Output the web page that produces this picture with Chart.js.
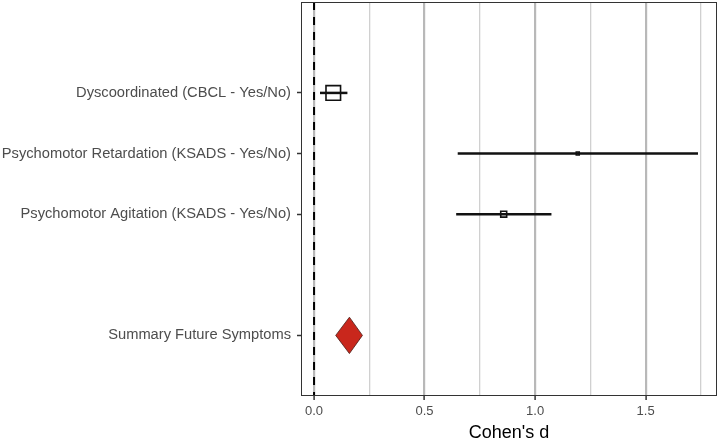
<!DOCTYPE html>
<html>
<head>
<meta charset="utf-8">
<script src="https://cdn.jsdelivr.net/npm/chart.js@4/dist/chart.umd.min.js"></script>
<style>
  html, body { margin: 0; padding: 0; background: #fff; }
  #wrap { width: 719px; height: 442px; }
</style>
</head>
<body>
<div id="wrap"><canvas id="forestChart" width="719" height="442"></canvas></div>
<script>
// studies (top to bottom) and their row on the y scale
var studies = ["Dyscoordinated (CBCL - Yes/No)", "Psychomotor Retardation (KSADS - Yes/No)", "Psychomotor Agitation (KSADS - Yes/No)"];
var studyRow = [5, 4, 3];
var estimate = [0.087, 1.193, 0.858];
var lower = [0.027, 0.650, 0.643];
var upper = [0.151, 1.737, 1.074];

var summaryLabel = "Summary Future Symptoms";
var summaryRow = 1;
var summaryEstimate = 0.160;
var summaryLower = 0.098;
var summaryUpper = 0.219;

var xTicks = [0, 0.25, 0.5, 0.75, 1.0, 1.25, 1.5, 1.75];
var xTickLabels = ["0.0", "", "0.5", "", "1.0", "", "1.5", ""];

// box size per study (px radius for the square marker)
var boxRadius = [10.3, 2.1, 4.2];
var diamondHalfHeight = 0.3;

var rowLabels = {};
studies.forEach(function (s, i) { rowLabels[studyRow[i]] = s; });
rowLabels[summaryRow] = summaryLabel;
var yTicks = studyRow.concat([summaryRow]);

var datasets = [];

// dashed line at zero (drawn top to bottom)
datasets.push({
    type: "line",
    data: [{ x: 0, y: 6.5 }, { x: 0, y: 0 }],
    borderColor: "#000",
    borderWidth: 2,
    borderDash: [8, 7],
    pointRadius: 0
});

// confidence intervals
studies.forEach(function (s, i) {
    datasets.push({
        type: "line",
        data: [{ x: lower[i], y: studyRow[i] }, { x: upper[i], y: studyRow[i] }],
        borderColor: "#111",
        borderWidth: 2.5,
        pointRadius: 0
    });
});

// point estimates
datasets.push({
    type: "scatter",
    data: studies.map(function (s, i) { return { x: estimate[i], y: studyRow[i] }; }),
    pointStyle: "rect",
    pointRadius: boxRadius,
    backgroundColor: "rgba(0,0,0,0)",
    borderColor: "#111",
    borderWidth: 1.6
});

// summary diamond
datasets.push({
    type: "line",
    data: [
        { x: summaryLower, y: summaryRow },
        { x: summaryEstimate, y: summaryRow + diamondHalfHeight },
        { x: summaryUpper, y: summaryRow },
        { x: summaryEstimate, y: summaryRow - diamondHalfHeight },
        { x: summaryLower, y: summaryRow }
    ],
    fill: "shape",
    backgroundColor: "#c9271c",
    borderColor: "#4a1a14",
    borderWidth: 0.8,
    tension: 0,
    pointRadius: 0
});

var panelBorder = {
    id: "panelBorder",
    afterDraw: function (chart) {
        var a = chart.chartArea, c = chart.ctx;
        c.save();
        c.strokeStyle = "#333";
        c.lineWidth = 1;
        c.strokeRect(a.left + 0.5, a.top + 0.5, a.right - a.left - 1, a.bottom - a.top - 1);
        c.restore();
    }
};

new Chart(document.getElementById("forestChart").getContext("2d"), {
    type: "scatter",
    data: { datasets: datasets },
    plugins: [panelBorder],
    options: {
        responsive: false,
        animation: false,
        layout: { autoPadding: false, padding: { top: 2, right: 2, left: 0, bottom: 0 } },
        plugins: { legend: { display: false }, tooltip: { enabled: false } },
        scales: {
            x: {
                type: "linear",
                min: -0.059,
                max: 1.823,
                afterBuildTicks: function (scale) {
                    scale.ticks = xTicks.map(function (v) { return { value: v }; });
                },
                afterFit: function (scale) {
                    scale.height = 46;
                    scale.paddingLeft = 0;
                    scale.paddingRight = 0;
                },
                ticks: {
                    autoSkip: false,
                    maxRotation: 0,
                    padding: 4,
                    color: "#4d4d4d",
                    font: { family: "Liberation Sans, Arial, sans-serif", size: 13 },
                    callback: function (v, i) { return xTickLabels[i]; }
                },
                grid: {
                    color: function (ctx) { return ctx.index % 2 === 0 ? "#b8b8b8" : "#d0d0d0"; },
                    lineWidth: function (ctx) { return ctx.index % 2 === 0 ? 2.2 : 1.3; },
                    tickColor: function (ctx) { return ctx.index % 2 === 0 ? "#333" : "rgba(0,0,0,0)"; },
                    tickWidth: 1.5,
                    tickLength: 4
                },
                border: { display: false },
                title: {
                    display: true,
                    text: "Cohen's d",
                    color: "#000",
                    font: { family: "Liberation Sans, Arial, sans-serif", size: 18 },
                    padding: { top: 0, bottom: -2 }
                }
            },
            y: {
                type: "linear",
                min: 0,
                max: 6.5,
                afterBuildTicks: function (scale) {
                    scale.ticks = yTicks.map(function (v) { return { value: v }; });
                },
                afterFit: function (scale) {
                    scale.width = 301;
                    scale.paddingTop = 0;
                    scale.paddingBottom = 0;
                },
                ticks: {
                    autoSkip: false,
                    padding: 6,
                    color: "#4d4d4d",
                    font: { family: "Liberation Sans, Arial, sans-serif", size: 14.7 },
                    callback: function (v) { return rowLabels[v]; }
                },
                grid: {
                    drawOnChartArea: false,
                    tickColor: "#333",
                    tickWidth: 1.5,
                    tickLength: 4
                },
                border: { display: false }
            }
        }
    }
});
</script>
</body>
</html>
